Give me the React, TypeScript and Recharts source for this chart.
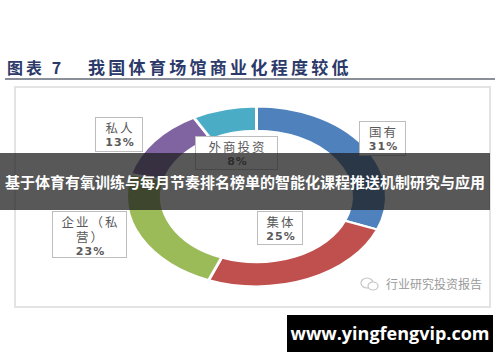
import React from 'react';
import { PieChart, Pie, Cell } from 'recharts';

// Ownership structure of sports venues (percent)
const categories = ['国有', '集体', '企业（私营）', '私人', '外商投资'];
const shares = [31, 25, 23, 13, 8];
const sliceColors = ['#4f81bd', '#c0504d', '#9bbb59', '#8064a2', '#4bacc6'];

const titleLead = '图表 7';
const titleText = '我国体育场馆商业化程度较低';
const bannerText = '基于体育有氧训练与每月节奏排名榜单的智能化课程推送机制研究与应用';
const sourceText = '行业研究投资报告';
const siteText = 'www.yingfengvip.com';

const pieData = categories.map((name, i) => ({ name, value: shares[i] }));

// Callout box placement for each category
const calloutBoxes: Record<string, { left: number; top: number; width: number; height: number }> = {
  '国有': { left: 359, top: 121, width: 47, height: 35 },
  '集体': { left: 257, top: 211, width: 46, height: 34 },
  '企业（私营）': { left: 52, top: 211, width: 75, height: 47 },
  '私人': { left: 95, top: 117, width: 48, height: 35 },
  '外商投资': { left: 195, top: 136, width: 83, height: 34 },
};

const CX = 251.5;
const CY = 193;
const OUTER = 130;
const INNER = 95;
const SQUASH = 90 / 130;

const cjk = '"Noto Sans CJK SC", "Noto Sans", sans-serif';

export default function App() {
  return (
    <div
      style={{
        position: 'absolute',
        left: 0,
        top: 0,
        width: 500,
        height: 362,
        background: '#ffffff',
        overflow: 'hidden',
        fontFamily: cjk,
      }}
    >
      {/* heading */}
      <div
        style={{
          position: 'absolute',
          left: 7,
          top: 57,
          fontSize: 16,
          fontWeight: 700,
          color: '#2c3a6a',
          letterSpacing: 3,
          whiteSpace: 'nowrap',
          lineHeight: '20px',
        }}
      >
        {titleLead}
      </div>
      <div
        style={{
          position: 'absolute',
          left: 88,
          top: 57,
          fontSize: 17,
          fontWeight: 700,
          color: '#2c3a6a',
          letterSpacing: 3.3,
          whiteSpace: 'nowrap',
          lineHeight: '20px',
        }}
      >
        {titleText}
      </div>
      <div
        style={{
          position: 'absolute',
          left: 5,
          top: 78,
          width: 490,
          height: 2,
          background: '#8a8f99',
        }}
      />

      {/* chart frame */}
      <div
        style={{
          position: 'absolute',
          left: 14,
          top: 86,
          width: 473,
          height: 218,
          border: '2px solid #e3e3e3',
        }}
      />

      {/* donut, drawn round then flattened vertically */}
      <div
        style={{
          position: 'absolute',
          left: 0,
          top: 0,
          width: 500,
          height: 362,
          transform: `scaleY(${SQUASH})`,
          transformOrigin: `${CX}px ${CY}px`,
        }}
      >
        <PieChart width={500} height={362}>
          <Pie
            data={pieData}
            dataKey="value"
            nameKey="name"
            cx={CX}
            cy={CY}
            innerRadius={INNER}
            outerRadius={OUTER}
            startAngle={90}
            endAngle={-270}
            stroke="#ffffff"
            strokeWidth={3}
            isAnimationActive={false}
          >
            {pieData.map((d, i) => (
              <Cell key={d.name} fill={sliceColors[i]} />
            ))}
          </Pie>
        </PieChart>
      </div>

      {/* callouts */}
      {pieData.map((d) => {
        const b = calloutBoxes[d.name];
        return (
          <div
            key={d.name}
            style={{
              position: 'absolute',
              left: b.left,
              top: b.top,
              width: b.width,
              height: b.height,
              boxSizing: 'border-box',
              border: '1px solid #bdbdbd',
              background: '#ffffff',
              color: '#5a5a5a',
              fontSize: 12.5,
              lineHeight: '15px',
              letterSpacing: 2,
              textAlign: 'center',
              paddingTop: 2,
              paddingLeft: 2,
            }}
          >
            <div>{d.name}</div>
            <div style={{ fontWeight: 700, fontFamily: '"DejaVu Sans", sans-serif', fontSize: 11, letterSpacing: 1 }}>
              {d.value}%
            </div>
          </div>
        );
      })}

      {/* source mark */}
      <svg
        style={{ position: 'absolute', left: 360, top: 276 }}
        width={20}
        height={16}
      >
        <ellipse cx={7} cy={7} rx={6} ry={5} fill="none" stroke="#c4c4c4" strokeWidth={1.2} />
        <ellipse cx={13} cy={10} rx={5} ry={4} fill="#ffffff" stroke="#c4c4c4" strokeWidth={1.2} />
      </svg>
      <div
        style={{
          position: 'absolute',
          left: 386,
          top: 276,
          fontSize: 12,
          color: '#9a9a9a',
          whiteSpace: 'nowrap',
          lineHeight: '16px',
        }}
      >
        {sourceText}
      </div>

      {/* overlay banner */}
      <div
        style={{
          position: 'absolute',
          left: 0,
          top: 153,
          width: 490,
          height: 57,
          background: 'rgba(30,30,30,0.74)',
          color: '#ffffff',
          fontSize: 15,
          fontWeight: 700,
          lineHeight: '57px',
          textAlign: 'center',
          whiteSpace: 'nowrap',
        }}
      >
        {bannerText}
      </div>

      {/* site tag */}
      <div
        style={{
          position: 'absolute',
          left: 287,
          top: 315,
          width: 206,
          height: 37,
          background: '#000000',
          color: '#ffffff',
          fontFamily: '"Open Sans", sans-serif',
          fontWeight: 700,
          fontSize: 18,
          lineHeight: '37px',
          textAlign: 'center',
          whiteSpace: 'nowrap',
        }}
      >
        {siteText}
      </div>
    </div>
  );
}
